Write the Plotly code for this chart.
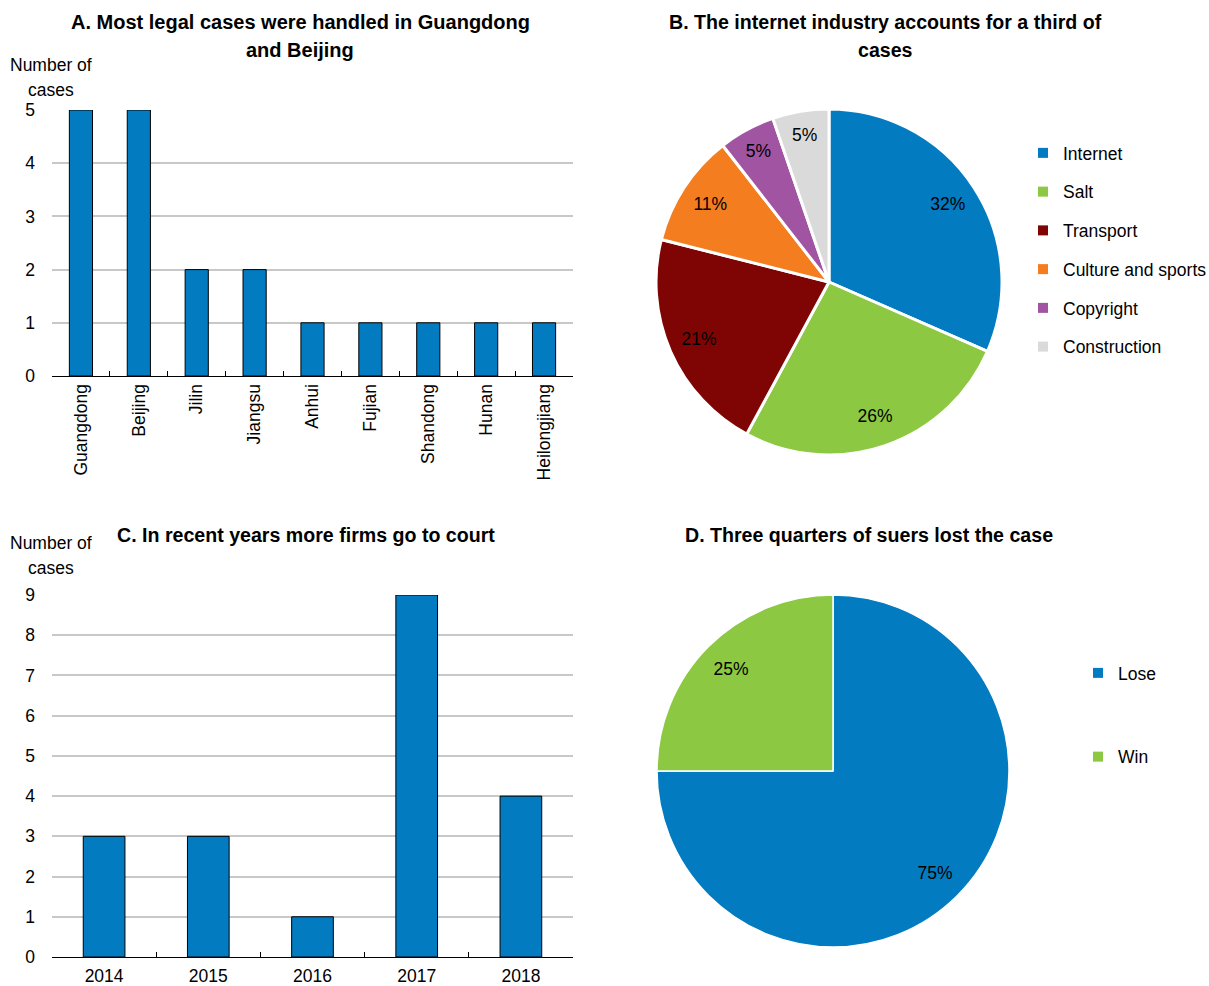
import plotly.graph_objects as go

# Panel A: legal cases by province
provinces = ["Guangdong", "Beijing", "Jilin", "Jiangsu", "Anhui", "Fujian",
             "Shandong", "Hunan", "Heilongjiang"]
province_cases = [5, 5, 2, 2, 1, 1, 1, 1, 1]

# Panel B: cases by industry
industries = ["Internet", "Salt", "Transport", "Culture and sports", "Copyright", "Construction"]
industry_cases = [6, 5, 4, 2, 1, 1]
industry_colors = ["#037BC1", "#8CC841", "#7F0505", "#F47D20", "#A154A1", "#DADADA"]

# Panel C: cases by year
years = ["2014", "2015", "2016", "2017", "2018"]
year_cases = [3, 3, 1, 9, 4]

# Panel D: outcome for the suer
outcomes = ["Lose", "Win"]
outcome_cases = [15, 5]
outcome_colors = ["#037BC1", "#8CC841"]

BLUE = "#037BC1"
FONT = "Liberation Sans, Arial, sans-serif"
W, H = 1209, 986


def px_x(v):
    return v / W


def px_y(v):
    return 1 - v / H


fig = go.Figure()

fig.add_trace(go.Bar(
    x=provinces, y=province_cases, width=0.4,
    marker=dict(color=BLUE, line=dict(color="black", width=1)),
    showlegend=False, xaxis="x", yaxis="y"))

fig.add_trace(go.Bar(
    x=years, y=year_cases, width=0.4,
    marker=dict(color=BLUE, line=dict(color="black", width=1)),
    showlegend=False, xaxis="x2", yaxis="y2"))


def add_pie(labels, values, colors, domain, line_width):
    # filled slices
    fig.add_trace(go.Pie(
        labels=labels, values=values, sort=False, direction="clockwise",
        marker=dict(colors=colors, line=dict(color="white", width=line_width)),
        textinfo="none", showlegend=False, domain=domain))
    # transparent ring on top carrying the percentage labels near the rim
    fig.add_trace(go.Pie(
        labels=labels, values=values, sort=False, direction="clockwise",
        hole=0.64,
        marker=dict(colors=["rgba(0,0,0,0)"] * len(values), line=dict(width=0)),
        texttemplate="%{percent:.0%}", textposition="inside",
        insidetextorientation="horizontal",
        insidetextfont=dict(color="black", size=17.5, family=FONT),
        hoverinfo="skip", showlegend=False, domain=domain))


add_pie(industries, industry_cases, industry_colors,
        dict(x=[px_x(656), px_x(1002)], y=[px_y(455), px_y(109)]), 3)
add_pie(outcomes, outcome_cases, outcome_colors,
        dict(x=[px_x(657), px_x(1009)], y=[px_y(947), px_y(595)]), 1.5)

# legend entries for the two pies
for name, col in zip(industries, industry_colors):
    fig.add_trace(go.Scatter(
        x=[None], y=[None], mode="markers", name=name, legendgroup=name,
        legend="legend",
        marker=dict(symbol="square", size=10, color=col)))
for name, col in zip(outcomes, outcome_colors):
    fig.add_trace(go.Scatter(
        x=[None], y=[None], mode="markers", name=name, legendgroup=name,
        legend="legend2",
        marker=dict(symbol="square", size=10, color=col)))

axis_font = dict(family=FONT, size=17.5, color="black")
legend_font = dict(family=FONT, size=17.5, color="black")

fig.update_layout(
    width=W, height=H,
    margin=dict(l=0, r=0, t=0, b=0, autoexpand=False),
    paper_bgcolor="white", plot_bgcolor="white",
    font=dict(family=FONT, size=17, color="black"),
    xaxis=dict(domain=[px_x(52), px_x(573)], type="category", automargin=False,
               tickangle=-90, tickfont=axis_font,
               showline=True, linecolor="black", linewidth=1.2,
               ticks="inside", tickson="boundaries", ticklen=5,
               tickcolor="black", showgrid=False),
    yaxis=dict(domain=[px_y(376), px_y(110)], range=[0, 5], dtick=1,
               automargin=False, tickfont=axis_font, showgrid=True,
               gridcolor="#C8C8C8", gridwidth=1.5, zeroline=False,
               ticklabelstandoff=16),
    xaxis2=dict(domain=[px_x(52), px_x(573)], type="category", automargin=False,
                tickfont=axis_font, anchor="y2", ticklabelstandoff=3,
                showline=True, linecolor="black", linewidth=1.2,
                ticks="inside", tickson="boundaries", ticklen=5,
                tickcolor="black", showgrid=False),
    yaxis2=dict(domain=[px_y(957), px_y(595)], range=[0, 9], dtick=1,
                anchor="x2", automargin=False, tickfont=axis_font, showgrid=True,
                gridcolor="#C8C8C8", gridwidth=1.5, zeroline=False,
                ticklabelstandoff=16),
    legend=dict(x=px_x(1023), y=px_y(135), xanchor="left", yanchor="top",
                traceorder="grouped", tracegroupgap=13, font=legend_font,
                bgcolor="rgba(0,0,0,0)"),
    legend2=dict(x=px_x(1078), y=px_y(655), xanchor="left", yanchor="top",
                 traceorder="grouped", tracegroupgap=58, font=legend_font,
                 bgcolor="rgba(0,0,0,0)"),
)


def add_lines(lines, cx, first_mid, spacing, font):
    # each line of a wrapped label is placed on its own baseline grid
    for i, line in enumerate(lines):
        fig.add_annotation(text=line, x=px_x(cx), y=px_y(first_mid + i * spacing),
                           xref="paper", yref="paper", xanchor="center",
                           yanchor="middle", showarrow=False, font=font)


title_font_a = dict(family=FONT, size=20, color="black", weight="bold")
title_font = dict(family=FONT, size=19.6, color="black", weight="bold")
add_lines(["A. Most legal cases were handled in Guangdong", "and Beijing"],
          300, 22, 28, title_font_a)
add_lines(["B. The internet industry accounts for a third of", "cases"],
          885, 22, 28, title_font)
add_lines(["C. In recent years more firms go to court"], 306, 535, 28, title_font)
add_lines(["D. Three quarters of suers lost the case"], 869, 535, 28, title_font)

label_font = dict(family=FONT, size=17.5, color="black")
for first in (65, 543):
    add_lines(["Number of", "cases"], 51, first, 25, label_font)

fig.write_html("out.html")
